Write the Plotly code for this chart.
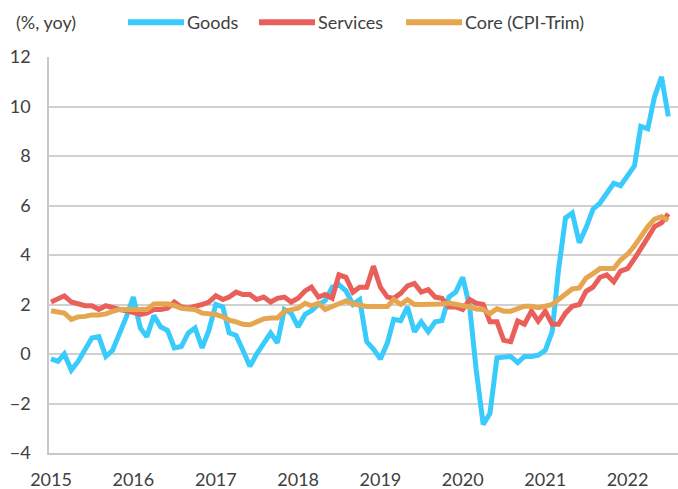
import pandas as pd
import plotly.graph_objects as go

# Monthly year-over-year inflation, Jan 2015 - Jul 2022
months = pd.date_range("2015-01-01", "2022-07-01", freq="MS")

goods = [
    -0.2, -0.3, 0.0, -0.65, -0.3, 0.15, 0.65, 0.7, -0.1, 0.15, 0.8, 1.5,
    2.3, 1.05, 0.7, 1.55, 1.1, 0.95, 0.25, 0.3, 0.85, 1.05, 0.25, 0.95,
    2.0, 1.9, 0.85, 0.75, 0.15, -0.5, 0.0, 0.45, 0.85, 0.45, 1.8, 1.65,
    1.1, 1.6, 1.75, 2.0, 2.15, 2.7, 2.8, 2.55, 2.0, 2.2, 0.5, 0.2,
    -0.2, 0.45, 1.4, 1.35, 1.9, 0.9, 1.3, 0.9, 1.3, 1.35, 2.3, 2.5,
    3.1, 1.9, -0.65, -2.85, -2.4, -0.15, -0.15, -0.1, -0.35, -0.1, -0.1, -0.05,
    0.15, 0.9, 3.4, 5.5, 5.7, 4.5, 5.1, 5.85, 6.1, 6.5, 6.9, 6.8,
    7.2, 7.6, 9.2, 9.1, 10.4, 11.2, 9.6,
]

services = [
    2.1, 2.25, 2.35, 2.1, 2.0, 1.95, 1.95, 1.8, 1.95, 1.85, 1.8, 1.75,
    1.7, 1.6, 1.65, 1.8, 1.8, 1.85, 2.1, 1.9, 1.85, 1.9, 2.0, 2.1,
    2.35, 2.2, 2.3, 2.5, 2.4, 2.4, 2.2, 2.3, 2.1, 2.25, 2.3, 2.1,
    2.25, 2.55, 2.7, 2.3, 2.4, 2.25, 3.2, 3.1, 2.5, 2.7, 2.7, 3.55,
    2.7, 2.3, 2.25, 2.45, 2.75, 2.85, 2.5, 2.6, 2.3, 2.25, 1.9, 1.9,
    1.8, 2.2, 2.05, 2.0, 1.3, 1.3, 0.55, 0.5, 1.33, 1.2, 1.73, 1.33,
    1.73, 1.2, 1.2, 1.65, 1.93, 2.0, 2.53, 2.7, 3.1, 3.2, 2.92, 3.35,
    3.45, 3.85, 4.3, 4.7, 5.15, 5.3, 5.67,
]

core_trim = [
    1.75, 1.68, 1.65, 1.4, 1.5, 1.52, 1.58, 1.58, 1.62, 1.72, 1.8, 1.8,
    1.8, 1.8, 1.8, 2.02, 2.03, 2.03, 1.95, 1.85, 1.82, 1.8, 1.65, 1.63,
    1.6, 1.5, 1.37, 1.3, 1.2, 1.18, 1.3, 1.42, 1.45, 1.45, 1.73, 1.8,
    1.85, 2.05, 1.95, 2.05, 1.8, 1.92, 2.05, 2.14, 2.03, 1.97, 1.92, 1.92,
    1.92, 1.92, 2.2, 2.0, 2.2, 2.0, 2.0, 2.0, 2.02, 2.02, 2.06, 2.02,
    1.98, 1.9, 1.82, 1.8, 1.63, 1.83, 1.73, 1.73, 1.83, 1.93, 1.93, 1.87,
    1.93, 2.0, 2.2, 2.4, 2.63, 2.67, 3.07, 3.25, 3.45, 3.45, 3.45, 3.8,
    4.03, 4.37, 4.75, 5.15, 5.45, 5.55, 5.4,
]

year_ticks = [f"{y}-01-01" for y in range(2015, 2023)]
year_labels = [str(y) for y in range(2015, 2023)]
y_ticks = list(range(-4, 13, 2))

series = [
    ("Goods", goods, "#38CBFB"),
    ("Services", services, "#E9605B"),
    ("Core (CPI-Trim)", core_trim, "#E6A650"),
]

TEXT = "#404040"
FONT = "Lato, 'Open Sans', sans-serif"

fig = go.Figure()
for name, vals, color in series:
    fig.add_trace(go.Scatter(
        x=months, y=vals, name=name, mode="lines",
        line=dict(color=color, width=5),
        showlegend=False,
    ))

# Legend drawn as long swatches with labels in a row above the plot
legend_slots = [(0.1256, 0.2146), (0.3339, 0.4229), (0.5676, 0.6566)]
legend_y = 1.088
shapes = []
annotations = []
for (name, _, color), (x0, x1) in zip(series, legend_slots):
    shapes.append(dict(
        type="line", xref="paper", yref="paper",
        x0=x0, x1=x1, y0=legend_y, y1=legend_y,
        line=dict(color=color, width=6),
    ))
    annotations.append(dict(
        text=name, xref="paper", yref="paper",
        x=x1 + 0.002, y=legend_y, xanchor="left", yanchor="middle",
        showarrow=False, font=dict(size=18, color=TEXT),
    ))

annotations.append(dict(
    text="(%, yoy)", xref="paper", yref="paper",
    x=-0.056, y=legend_y, xanchor="left", yanchor="middle",
    showarrow=False, font=dict(size=18, color=TEXT),
))

fig.update_layout(
    width=678, height=489,
    margin=dict(l=49, r=0, t=57, b=36, autoexpand=False),
    paper_bgcolor="white", plot_bgcolor="white",
    font=dict(family=FONT, size=18, color=TEXT),
    xaxis=dict(
        type="date",
        range=["2014-12-23", "2022-08-13"],
        tickvals=year_ticks, ticktext=year_labels,
        showgrid=False, zeroline=False,
        showline=True, linecolor="#c8c8c8", linewidth=1.5,
        ticks="", ticklabelstandoff=10,
    ),
    yaxis=dict(
        range=[-4, 12], tickvals=y_ticks,
        showgrid=True, gridcolor="#d0d0d0", gridwidth=1.5,
        zeroline=False,
        showline=True, linecolor="#c8c8c8", linewidth=1.5,
        ticks="", ticklabelstandoff=13,
    ),
    shapes=shapes,
    annotations=annotations,
)

fig.write_html("out.html")
